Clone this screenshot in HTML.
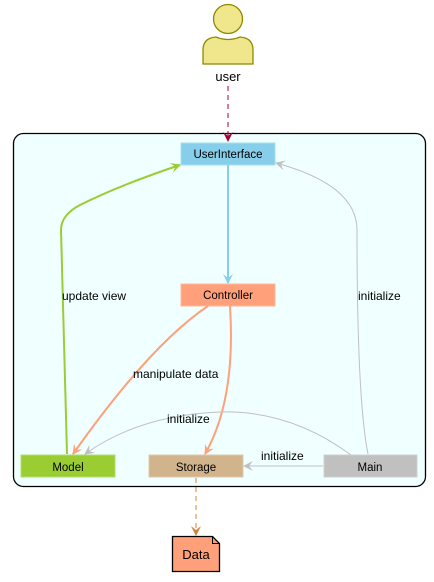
<!DOCTYPE html>
<html><head><style>body{margin:0;background:#fff}svg{display:block}text{font-family:"Liberation Sans",sans-serif}</style></head><body>
<svg width="434" height="582" viewBox="0 0 434 582" xmlns="http://www.w3.org/2000/svg">
<defs>
<marker id="a" viewBox="0 0 10 10" refX="9" refY="5" markerWidth="10" markerHeight="10" markerUnits="userSpaceOnUse" orient="auto"><path d="M0,0 L10,5 L0,10 L4,5 Z" fill="context-stroke"/></marker>
</defs>
<circle cx="228" cy="19" r="14.5" fill="#f0e68c" stroke="#8b8b00" stroke-width="1.3"/>
<path d="M203,64 L203,50 Q203,38 216,37 Q228,42 240,37 Q253,38 253,50 L253,64 Z" fill="#f0e68c" stroke="#8b8b00" stroke-width="1.3"/>
<text x="228" y="81" font-size="13" text-anchor="middle" fill="#000">user</text>
<rect x="13.5" y="133.5" width="412" height="353" rx="10" fill="#f0ffff" stroke="#000" stroke-width="1.3"/>
<line x1="228" y1="86" x2="228" y2="141" stroke="#a80036" stroke-dasharray="5,4" marker-end="url(#a)"/>
<rect x="181" y="143" width="94" height="22" fill="#87ceeb" stroke="#a4dff3"/>
<text x="228" y="158" font-size="11.5" text-anchor="middle">UserInterface</text>
<rect x="181" y="284" width="94" height="22" fill="#ffa07a" stroke="#ffb89a"/>
<text x="228" y="299" font-size="11.5" text-anchor="middle">Controller</text>
<rect x="21" y="455" width="94" height="22" fill="#9acd32" stroke="#b5dd70"/>
<text x="68" y="471" font-size="11.5" text-anchor="middle">Model</text>
<rect x="149" y="455" width="94" height="22" fill="#d2b48c" stroke="#e0c9aa"/>
<text x="196" y="471" font-size="11.5" text-anchor="middle">Storage</text>
<rect x="324" y="455" width="93" height="22" fill="#c0c0c0" stroke="#d0d0d0"/>
<text x="370" y="471" font-size="11.5" text-anchor="middle">Main</text>
<line x1="228" y1="165" x2="228" y2="283" stroke="#87ceeb" stroke-width="2" marker-end="url(#a)"/>
<path d="M67,454 L61,230 Q61,215 80,205 Q120,185 180,165" fill="none" stroke="#9acd32" stroke-width="2" marker-end="url(#a)"/>
<text x="62" y="300" font-size="12">update view</text>
<path d="M368,454 Q357,400 357,230 Q357,185 276,163" fill="none" stroke="#c0c0c0" stroke-width="1" marker-end="url(#a)"/>
<text x="358" y="300" font-size="12">initialize</text>
<path d="M208,306 Q150,345 73,454" fill="none" stroke="#ffa07a" stroke-width="2" marker-end="url(#a)"/>
<text x="133" y="378" font-size="12">manipulate data</text>
<path d="M230,306 Q236,400 205,454" fill="none" stroke="#ffa07a" stroke-width="2" marker-end="url(#a)"/>
<path d="M351,455 Q290,410 220,412 Q140,415 85,454" fill="none" stroke="#c0c0c0" stroke-width="1" marker-end="url(#a)"/>
<text x="167" y="423" font-size="12">initialize</text>
<line x1="323" y1="466" x2="244" y2="466" stroke="#c0c0c0" stroke-width="1" marker-end="url(#a)"/>
<text x="261" y="460" font-size="12">initialize</text>
<line x1="196" y1="478" x2="196" y2="535" stroke="#cd853f" stroke-dasharray="5,4" marker-end="url(#a)"/>
<path d="M172.5,536.5 L212.5,536.5 L219.5,543.5 L219.5,571.5 L172.5,571.5 Z" fill="#ffa07a" stroke="#000" stroke-width="1.3"/>
<path d="M212.5,536.5 L212.5,543.5 L219.5,543.5" fill="none" stroke="#000"/>
<text x="196" y="559" font-size="13" text-anchor="middle">Data</text>
</svg>
</body></html>
